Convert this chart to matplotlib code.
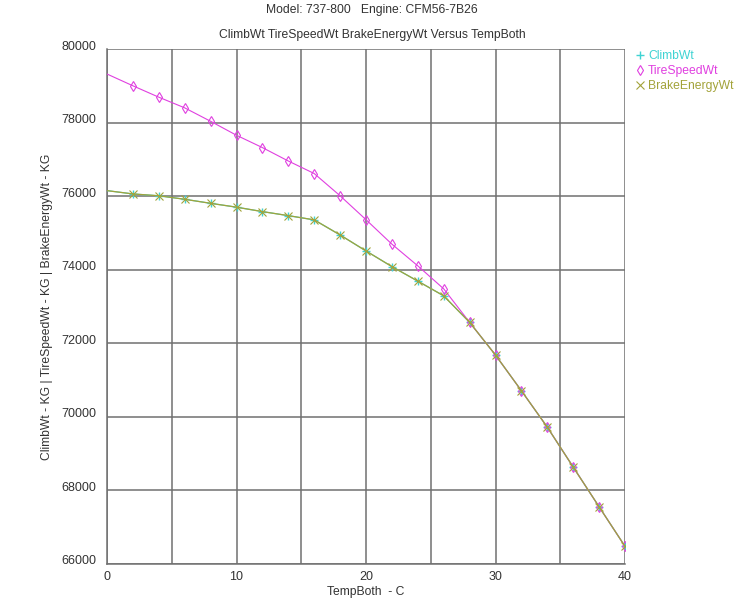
import numpy as np
import matplotlib
matplotlib.use('Agg')
import matplotlib.pyplot as plt
import matplotlib.transforms as mtransforms

plt.rcParams['font.family'] = ['Liberation Sans', 'DejaVu Sans']

# data
temp = [0, 2, 4, 6, 8, 10, 12, 14, 16, 18, 20, 22, 24, 26, 28, 30, 32, 34, 36, 38, 40]
climb_wt = [76150, 76060, 76010, 75915, 75805, 75700, 75580, 75470, 75355, 74945, 74510,
            74085, 73690, 73290, 72570, 71680, 70710, 69720, 68635, 67555, 66480]
tire_speed_wt = [79320, 79000, 78690, 78400, 78035, 77655, 77320, 76955, 76615, 76010, 75360,
                 74695, 74105, 73480, 72570, 71680, 70710, 69720, 68635, 67555, 66480]
brake_energy_wt = list(climb_wt)

kColorClimb = '#3fd3d3'
kColorTire = '#e040e0'
kColorBrake = '#a3a33a'
kColorText = '#333333'
kColorGrid = '#707070'
kFontSize = 8.7

fig = plt.figure(figsize=(7.44, 6.02), dpi=100)
ax = fig.add_axes([107/744, 1-564/602, (625-107)/744, (564-49)/602])

marks = list(range(1, len(temp)))

ax.plot(temp, climb_wt, color=kColorClimb, lw=0.9, marker='+', ms=5.5, mew=1.0,
        markevery=marks, label='ClimbWt', zorder=3)
ax.plot(temp, tire_speed_wt, color=kColorTire, lw=0.8, marker='d', ms=5.5, mew=0.8,
        mfc='none', markevery=marks, label='TireSpeedWt', zorder=4)
ax.plot(temp, brake_energy_wt, color=kColorBrake, lw=0.9, marker='x', ms=5.5, mew=0.8,
        markevery=marks, label='BrakeEnergyWt', zorder=5)

ax.set_xlim(0, 40)
ax.set_ylim(66000, 80000)
ax.set_xticks(np.arange(0, 41, 10))
ax.set_xticks(np.arange(0, 41, 5), minor=True)
ax.set_yticks(np.arange(66000, 80001, 2000))
ax.grid(True, which='both', color=kColorGrid, lw=1.1)
ax.set_axisbelow(True)
for side in ['top', 'right']:
  ax.spines[side].set_visible(False)
for side in ['left', 'bottom']:
  ax.spines[side].set_color(kColorGrid)
  ax.spines[side].set_linewidth(1.1)
ax.tick_params(which='both', length=0, labelsize=9, colors=kColorText, pad=5)
ax.tick_params(axis='y', pad=8)

# y tick labels sit a little above their grid lines in the reference
shift = mtransforms.ScaledTranslation(0, 4/100, fig.dpi_scale_trans)
for lbl in ax.get_yticklabels():
  lbl.set_transform(lbl.get_transform() + shift)

ax.set_xlabel('TempBoth  - C', fontsize=kFontSize, color=kColorText, labelpad=2)
ax.set_ylabel('ClimbWt - KG | TireSpeedWt - KG | BrakeEnergyWt - KG', fontsize=kFontSize,
              color=kColorText, labelpad=6)

fig.text(0.5, 1-10/602, 'Model: 737-800   Engine: CFM56-7B26', ha='center', va='center',
         fontsize=kFontSize, color=kColorText)
fig.text(0.5, 1-35/602, 'ClimbWt TireSpeedWt BrakeEnergyWt Versus TempBoth', ha='center',
         va='center', fontsize=kFontSize, color=kColorText)

leg = ax.legend(loc='upper left', bbox_to_anchor=(1.0, 1.016), frameon=False, fontsize=kFontSize,
                handlelength=0.8, handletextpad=0.3, labelspacing=0.25, borderaxespad=0.4)
for line, text in zip(leg.get_lines(), leg.get_texts()):
  line.set_linestyle('none')
  text.set_color(line.get_color())

fig.savefig('out.png', dpi=100)
